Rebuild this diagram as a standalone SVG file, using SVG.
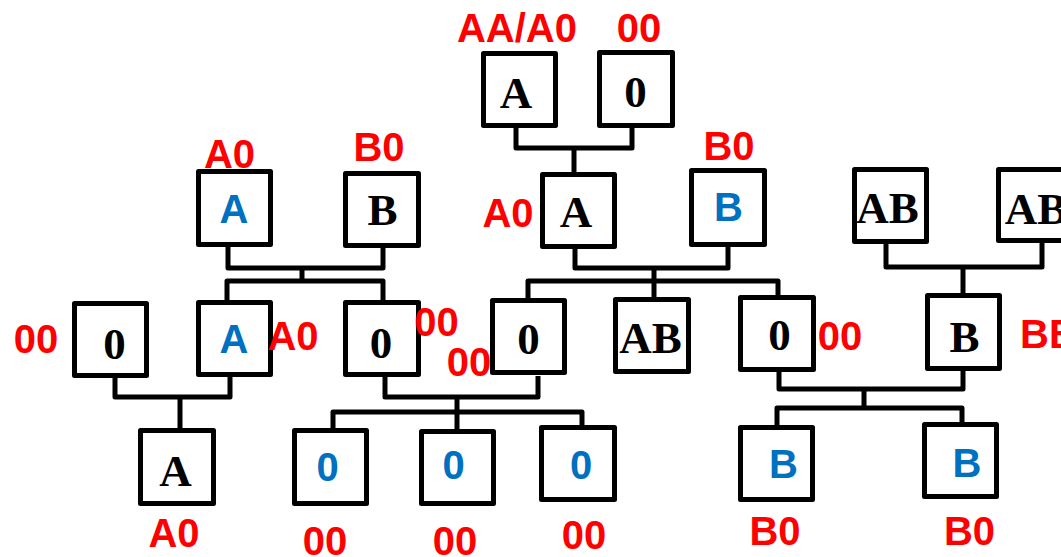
<svg xmlns="http://www.w3.org/2000/svg" width="1061" height="557" viewBox="0 0 1061 557">
<style>
.box{fill:#fff;stroke:#000;stroke-width:5;stroke-linejoin:round}
.con{fill:none;stroke:#000;stroke-width:5;stroke-linejoin:round}
.s{font-family:"Liberation Serif","Times New Roman",serif;font-weight:bold;font-size:45px;fill:#000;text-anchor:middle}
.b{font-family:"Liberation Sans",Arial,sans-serif;font-weight:bold;font-size:40px;fill:#0070C0;text-anchor:middle}
.r{font-family:"Liberation Sans",Arial,sans-serif;font-weight:bold;font-size:40px;fill:#FF0000;text-anchor:middle}
</style>
<rect width="1061" height="557" fill="#fff"/>
<g id="connectors" class="con">
<path d="M228,247 V268 H383 V248"/>
<path d="M302,268 V281"/>
<path d="M227,300 V281 H383 V300"/>
<path d="M115,378 V397 H230 V377"/>
<path d="M180,397 V429"/>
<path d="M385,377 V397 H538 V376"/>
<path d="M457,397 V429"/>
<path d="M333,428 V412 H582 V425"/>
<path d="M516,128 V148 H632 V128"/>
<path d="M574,148 V172"/>
<path d="M575,249 V268 H728 V247"/>
<path d="M654,268 V297"/>
<path d="M528,298 V281 H778 V295"/>
<path d="M886,244 V267 H1042 V243"/>
<path d="M963,267 V293"/>
<path d="M779,372 V389 H963 V371"/>
<path d="M864,389 V408"/>
<path d="M777,425 V408 H962 V425"/>
</g>
<g id="n1"><rect class="box" x="483.5" y="53.5" width="72" height="72"/><text class="s" x="516" y="108">A</text><text class="r" x="517" y="42">AA/A0</text></g>
<g id="n2"><rect class="box" x="599.5" y="52.5" width="73" height="73"/><text class="s" x="635.5" y="107">0</text><text class="r" x="639" y="42">00</text></g>
<g id="n3"><rect class="box" x="542.5" y="174.5" width="72" height="72"/><text class="s" x="576" y="227">A</text><text class="r" x="508" y="227">A0</text></g>
<g id="n4"><rect class="box" x="691.5" y="170.5" width="73" height="74"/><text class="b" x="728.5" y="221">B</text><text class="r" x="729" y="160">B0</text></g>
<g id="n5"><rect class="box" x="198.5" y="171.5" width="72" height="73"/><text class="b" x="234" y="223">A</text><text class="r" x="229.5" y="168">A0</text></g>
<g id="n6"><rect class="box" x="345.5" y="173.5" width="73" height="72"/><text class="s" x="382.5" y="225">B</text><text class="r" x="379" y="161">B0</text></g>
<g id="n7"><rect class="box" x="74.5" y="303.5" width="72" height="72"/><text class="s" x="114.5" y="359">0</text><text class="r" x="36" y="353">00</text></g>
<g id="n8"><rect class="box" x="198.5" y="302.5" width="72" height="72"/><text class="b" x="234" y="353">A</text><text class="r" x="293" y="350">A0</text></g>
<g id="n9"><rect class="box" x="345.5" y="302.5" width="73" height="72"/><text class="s" x="381" y="358">0</text><text class="r" x="436.5" y="336">00</text></g>
<g id="n10"><text class="r" x="469" y="376">00</text><rect class="box" x="492.5" y="300.5" width="72" height="72"/><text class="s" x="528.5" y="354">0</text></g>
<g id="n11"><rect class="box" x="615.5" y="299.5" width="73" height="72"/><text class="s" x="650.5" y="353">AB</text></g>
<g id="n12"><rect class="box" x="740.5" y="297.5" width="73" height="72"/><text class="s" x="779.5" y="350">0</text><text class="r" x="840" y="350">00</text></g>
<g id="n13"><rect class="box" x="854.5" y="169.5" width="72" height="72"/><text class="s" x="887.5" y="223">AB</text></g>
<g id="n14"><rect class="box" x="998.5" y="169.5" width="72" height="71"/><text class="s" x="1036" y="224">AB</text></g>
<g id="n15"><rect class="box" x="927.5" y="295.5" width="72" height="73"/><text class="s" x="964.5" y="352">B</text><text class="r" x="1020" y="348" style="text-anchor:start">BB</text></g>
<g id="n16"><rect class="box" x="140.5" y="430.5" width="73" height="73"/><text class="s" x="175.5" y="486">A</text><text class="r" x="174" y="547">A0</text></g>
<g id="n17"><rect class="box" x="294.5" y="430.5" width="72" height="73"/><text class="b" x="327.5" y="481">0</text><text class="r" x="325" y="555">00</text></g>
<g id="n18"><rect class="box" x="421.5" y="431.5" width="72" height="72"/><text class="b" x="453.5" y="479">0</text><text class="r" x="455" y="555">00</text></g>
<g id="n19"><rect class="box" x="541.5" y="427.5" width="73" height="72"/><text class="b" x="581" y="479">0</text><text class="r" x="584" y="549">00</text></g>
<g id="n20"><rect class="box" x="740.5" y="427.5" width="72" height="72"/><text class="b" x="783.5" y="478">B</text><text class="r" x="775" y="545">B0</text></g>
<g id="n21"><rect class="box" x="924.5" y="424.5" width="72" height="72"/><text class="b" x="967" y="477">B</text><text class="r" x="969.5" y="545">B0</text></g>
</svg>
